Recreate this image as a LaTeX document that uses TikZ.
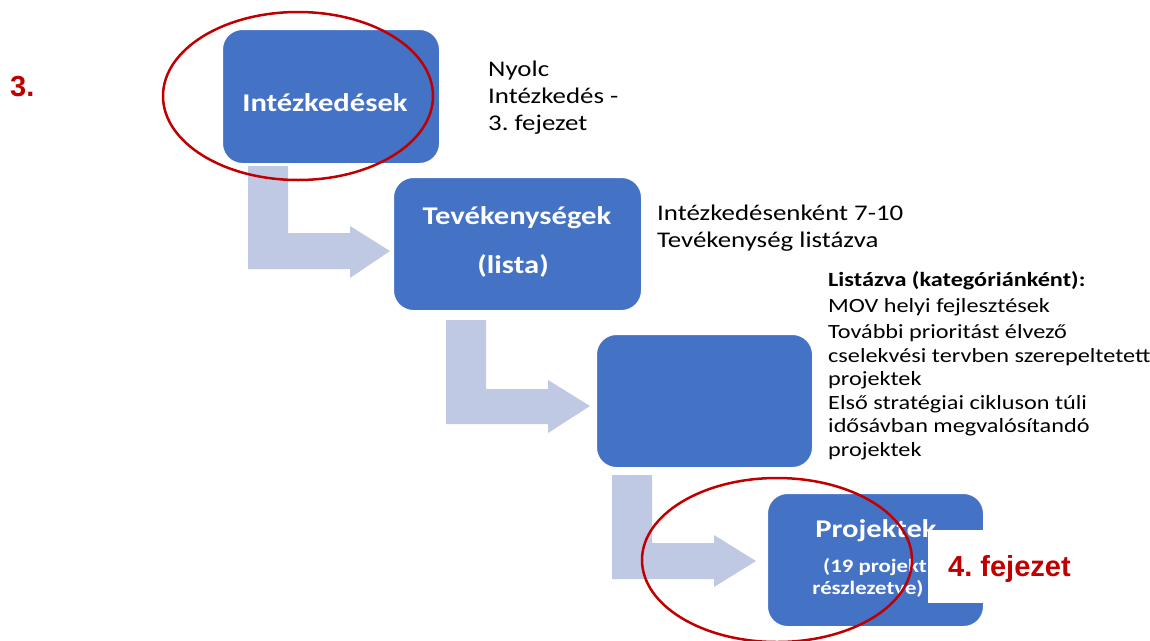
\documentclass[tikz,border=0pt]{standalone}
\usepackage{fontspec}
\setmainfont{Carlito}[FakeStretch=1.2]
\newfontfamily\redfont{Liberation Sans}
\definecolor{boxblue}{HTML}{4472C4}
\definecolor{arrowblue}{HTML}{C0C9E4}
\definecolor{darkred}{HTML}{C00000}
\frenchspacing
\tikzset{
  stepbox/.style={draw=white, line width=1pt, fill=boxblue, rounded corners=20pt,
    inner sep=0pt, anchor=north west},
  boxtext/.style={text=white, font=\bfseries\fontsize{25.5}{30}\selectfont, inner sep=0pt},
  smalltext/.style={text=white, font=\bfseries\fontsize{19}{22}\selectfont, inner sep=0pt},
  note/.style={text=black, font=\fontsize{22.4}{26}\selectfont, inner sep=0pt, anchor=base west},
  listtext/.style={text=black, font=\fontsize{20.2}{24}\selectfont, inner sep=0pt, anchor=base west},
  bentarrow/.style={fill=arrowblue, draw=none},
  ring/.style={draw=darkred, line width=2.5pt},
  redlabel/.style={text=darkred, font=\redfont\bfseries\fontsize{29}{33}\selectfont, inner sep=0pt, anchor=base west}
}
\begin{document}
\begin{tikzpicture}[x=1pt,y=-1pt]
\useasboundingbox (0,0) rectangle (1150,640);
% bent arrows
\fill[bentarrow] (248,166) -- (288,166) -- (288,233) -- (350,233) -- (350,226) -- (390,251) -- (350,278) -- (350,269) -- (248,269) -- cycle;
\fill[bentarrow] (446,320) -- (486,320) -- (486,389) -- (548,389) -- (548,380) -- (590,406) -- (548,433) -- (548,424) -- (446,424) -- cycle;
\fill[bentarrow] (612,475) -- (652,475) -- (652,543) -- (714,543) -- (714,535) -- (756,561) -- (714,587) -- (714,579) -- (612,579) -- cycle;
% boxes
\node[stepbox, minimum width=217pt, minimum height=134pt] (b1) at (222,29) {};
\node[stepbox, minimum width=248pt, minimum height=133pt] (b2) at (393,177) {};
\node[stepbox, minimum width=216pt, minimum height=133pt] (b3) at (596,334) {};
\node[stepbox, minimum width=216pt, minimum height=133pt] (b4) at (767,493) {};
% box texts
\node[boxtext] (t1) at (325,103) {Intézkedések};
\node[boxtext] (t2a) at (517,218) {Tevékenységek};
\node[boxtext] (t2b) at (513,266) {(lista)};
\node[boxtext] (t4a) at (876,531) {Projektek};
\node[smalltext] (t4b) at (875,567) {(19 projekt};
\node[smalltext] (t4c) at (868,589) {részlezetve)};
% white cover
\fill[white] (928,530) rectangle (995,603);
% notes
\node[note] (n1) at (488,76) {Nyolc};
\node[note] (n2) at (488,103) {Intézkedés -};
\node[note] (n3) at (488,130) {3. fejezet};
\node[note] (m1) at (657,220) {Intézkedésenként 7-10};
\node[note] (m2) at (657,247) {Tevékenység listázva};
\node[listtext] (l1) at (828,286) {\bfseries Listázva (kategóriánként):};
\node[listtext] (l2) at (828,312) {MOV helyi fejlesztések};
\node[listtext] (l3) at (828,338) {További prioritást élvező};
\node[listtext] (l4) at (828,362) {cselekvési tervben szerepeltetett};
\node[listtext] (l5) at (828,385) {projektek};
\node[listtext] (l6) at (828,409) {Első stratégiai cikluson túli};
\node[listtext] (l7) at (828,432) {idősávban megvalósítandó};
\node[listtext] (l8) at (828,456) {projektek};
% red labels
\node[redlabel] (r1) at (10,96) {3.};
\node[redlabel] (r2) at (948,576) {4. fejezet};
% ellipses
\draw[ring] (298,96) ellipse [x radius=135, y radius=84];
\draw[ring] (777,560) ellipse [x radius=135, y radius=82];
\end{tikzpicture}
\end{document}
